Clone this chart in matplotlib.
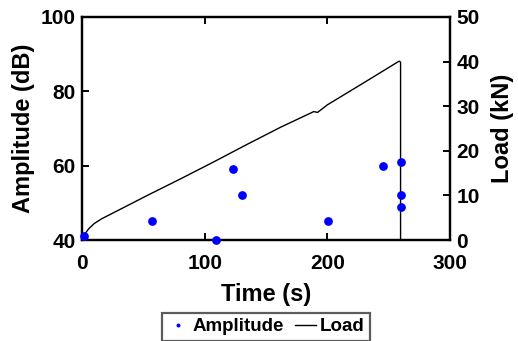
import matplotlib
matplotlib.use("Agg")
import matplotlib.pyplot as plt

plt.rcParams['font.family'] = ['Liberation Sans', 'DejaVu Sans']
plt.rcParams['font.weight'] = 'bold'

# Acoustic emission amplitude events
amp_time = [2, 57, 109, 123.5, 130.5, 200.5, 245, 260, 260, 260]
amp_db = [41, 45, 40, 59, 52, 45, 60, 61, 52, 49]

# Load curve
load_time = [0, 1, 2.5, 5.4, 10, 16, 32, 54, 81, 108, 135, 162, 189, 192, 200, 230, 258.5, 259.7, 259.7]
load_kn = [0, 0.6, 1.4, 2.5, 3.7, 4.75, 7.0, 10.1, 13.8, 17.6, 21.5, 25.3, 28.8, 28.6, 30.3, 35.3, 40.1, 39.9, 0]

x_ticks = [0, 100, 200, 300]
amp_ticks = [40, 60, 80, 100]
load_ticks = [0, 10, 20, 30, 40, 50]

fig = plt.figure(figsize=(5.18, 3.41), dpi=100)
ax = fig.add_axes([82/518, 1-240/341, (450-82)/518, (240-17)/341])
ax2 = ax.twinx()

ln, = ax2.plot(load_time, load_kn, color='black', lw=1.0, label='Load')
pts, = ax.plot(amp_time, amp_db, 'o', color='#0000ff', ms=6.3, mec='none',
               clip_on=False, label='Amplitude', zorder=5)

ax.set_zorder(ax2.get_zorder() + 1)
ax.patch.set_visible(False)

ax.set_xlim(0, 300)
ax.set_ylim(40, 100)
ax2.set_ylim(0, 50)
ax.set_xticks(x_ticks)
ax.set_yticks(amp_ticks)
ax2.set_yticks(load_ticks)

fs_tick = 15
fs_lab = 17
for a in (ax, ax2):
    for s in a.spines.values():
        s.set_linewidth(1.6)
    a.tick_params(direction='in', length=5, width=1.4, labelsize=fs_tick)
ax.tick_params(axis='x', top=True, pad=10)
ax.tick_params(axis='y', pad=4.5)
ax2.tick_params(axis='y', pad=4.5)
for lab in ax.get_xticklabels() + ax.get_yticklabels() + ax2.get_yticklabels():
    lab.set_fontweight('bold')

ax.set_xlabel('Time (s)', fontsize=fs_lab, fontweight='bold', labelpad=7)
ax.set_ylabel('Amplitude (dB)', fontsize=fs_lab, fontweight='bold', labelpad=4)
ax2.set_ylabel('Load (kN)', fontsize=fs_lab, fontweight='bold', rotation=90, labelpad=8)

leg = fig.legend([pts, ln], ['Amplitude', 'Load'], loc='lower center',
                 bbox_to_anchor=(266/518, 0.0), ncol=2, frameon=True, fancybox=False,
                 markerscale=0.45, handlelength=1.1, handletextpad=0.2, columnspacing=0.6,
                 borderpad=0.3, borderaxespad=0.0, prop={'size': 13.5, 'weight': 'bold'})
leg.get_frame().set_edgecolor('#333333')
leg.get_frame().set_linewidth(1.6)

fig.savefig('out.png', dpi=100)
